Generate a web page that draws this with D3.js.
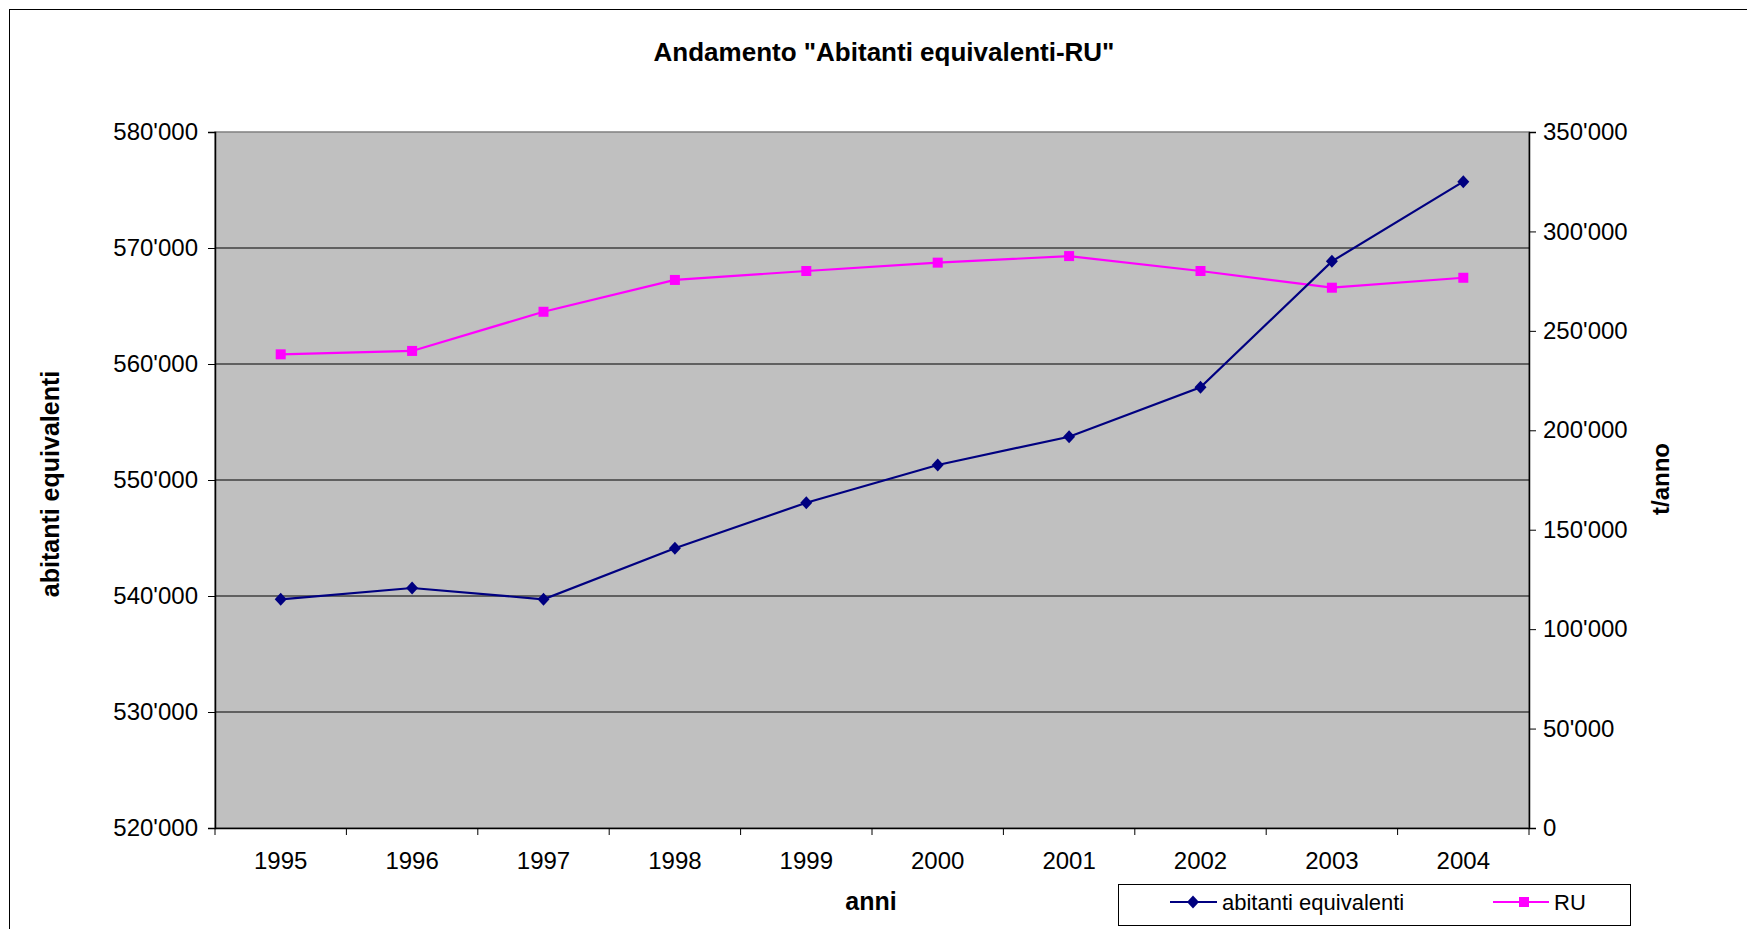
<!DOCTYPE html>
<html lang="it">
<head>
  <meta charset="UTF-8" />
  <title>Andamento "Abitanti equivalenti-RU"</title>
  <script src="https://d3js.org/d3.v7.min.js"></script>
  <style>
    body {
      margin: 0;
      background-color: #fff;
      font-family: "Liberation Sans", Arial, sans-serif;
    }
    svg {
      display: block;
    }
    .tick text {
      font-family: "Liberation Sans", Arial, sans-serif;
    }
  </style>
</head>
<body>

<svg id="chart" width="1747" height="929"></svg>

<script>
  // dati
  const anni = ["1995", "1996", "1997", "1998", "1999", "2000", "2001", "2002", "2003", "2004"];
  const abitantiEquivalenti = [539716, 540690, 539716, 544110, 548040, 551290, 553730, 557990, 568850, 575720];
  const ru = [238200, 239900, 259600, 275600, 280100, 284300, 287600, 280100, 271700, 276700];
  const ticksSinistra = [520000, 530000, 540000, 550000, 560000, 570000, 580000];
  const ticksDestra = [0, 50000, 100000, 150000, 200000, 250000, 300000, 350000];

  const svg = d3.select("#chart");
  const plot = { left: 215, top: 132, right: 1529, bottom: 828 };

  const fmt = v => d3.format(",")(v).replace(/,/g, "'");

  const x = d3.scaleBand().domain(anni).range([plot.left, plot.right]).padding(0);
  const yL = d3.scaleLinear().domain([520000, 580000]).range([plot.bottom, plot.top]);
  const yR = d3.scaleLinear().domain([0, 350000]).range([plot.bottom, plot.top]);
  const cx = d => x(d) + x.bandwidth() / 2;

  // bordo esterno
  svg.append("rect")
    .attr("x", 9.5).attr("y", 9.5)
    .attr("width", 1800).attr("height", 1000)
    .attr("fill", "none").attr("stroke", "#000").attr("stroke-width", 1);

  // titolo
  svg.append("text")
    .attr("x", 884).attr("y", 61)
    .attr("text-anchor", "middle")
    .style("font-size", "26px").style("font-weight", "bold")
    .text('Andamento "Abitanti equivalenti-RU"');

  // area del grafico
  svg.append("rect")
    .attr("x", plot.left).attr("y", plot.top)
    .attr("width", plot.right - plot.left).attr("height", plot.bottom - plot.top)
    .attr("fill", "#c0c0c0").attr("stroke", "#808080").attr("stroke-width", 1.5);

  // griglia
  svg.append("g")
    .selectAll("line")
    .data(ticksSinistra.slice(1, -1))
    .enter().append("line")
    .attr("x1", plot.left).attr("x2", plot.right)
    .attr("y1", d => yL(d)).attr("y2", d => yL(d))
    .attr("stroke", "#000").attr("stroke-width", 1.2);

  // asse sinistro
  const axL = svg.append("g")
    .attr("transform", `translate(${plot.left},0)`)
    .call(d3.axisLeft(yL).tickValues(ticksSinistra).tickFormat(fmt).tickSize(7).tickPadding(10));
  axL.select(".domain").attr("stroke", "#000").attr("stroke-width", 1.5);
  axL.selectAll(".tick text").style("font-size", "24px").attr("fill", "#000");

  // asse destro
  const axR = svg.append("g")
    .attr("transform", `translate(${plot.right},0)`)
    .call(d3.axisRight(yR).tickValues(ticksDestra).tickFormat(fmt).tickSize(7).tickPadding(7));
  axR.select(".domain").attr("stroke", "#000").attr("stroke-width", 1.5);
  axR.selectAll(".tick text").style("font-size", "24px").attr("fill", "#000");

  // asse x
  const axX = svg.append("g")
    .attr("transform", `translate(0,${plot.bottom})`)
    .call(d3.axisBottom(x).tickSize(0).tickPadding(24));
  axX.select(".domain").attr("stroke", "#000").attr("stroke-width", 1.5);
  axX.selectAll(".tick text").style("font-size", "24px").attr("fill", "#000");

  // tacche tra le categorie
  svg.append("g")
    .selectAll("line")
    .data(anni.map(d => x(d)).concat([plot.right]))
    .enter().append("line")
    .attr("x1", d => d).attr("x2", d => d)
    .attr("y1", plot.bottom).attr("y2", plot.bottom + 7)
    .attr("stroke", "#000").attr("stroke-width", 1);

  // titoli assi
  svg.append("text")
    .attr("transform", "translate(50,484) rotate(-90)")
    .attr("text-anchor", "middle").attr("dominant-baseline", "central")
    .style("font-size", "25px").style("font-weight", "bold")
    .text("abitanti equivalenti");

  svg.append("text")
    .attr("transform", "translate(1660,479) rotate(-90)")
    .attr("text-anchor", "middle").attr("dominant-baseline", "central")
    .style("font-size", "24px").style("font-weight", "bold")
    .text("t/anno");

  svg.append("text")
    .attr("x", 871).attr("y", 910)
    .attr("text-anchor", "middle")
    .style("font-size", "25px").style("font-weight", "bold")
    .text("anni");

  // linee
  const lineaAb = d3.line().x((d, i) => cx(anni[i])).y(d => yL(d));
  const lineaRu = d3.line().x((d, i) => cx(anni[i])).y(d => yR(d));

  svg.append("path")
    .datum(ru)
    .attr("d", lineaRu)
    .attr("fill", "none").attr("stroke", "#ff00ff").attr("stroke-width", 2.2);

  svg.append("path")
    .datum(abitantiEquivalenti)
    .attr("d", lineaAb)
    .attr("fill", "none").attr("stroke", "#000080").attr("stroke-width", 2.2);

  const diamante = d3.symbol().type(d3.symbolSquare).size(72);

  svg.append("g")
    .selectAll("rect")
    .data(ru)
    .enter().append("rect")
    .attr("x", (d, i) => cx(anni[i]) - 5).attr("y", d => yR(d) - 5)
    .attr("width", 10).attr("height", 10)
    .attr("fill", "#ff00ff");

  svg.append("g")
    .selectAll("path")
    .data(abitantiEquivalenti)
    .enter().append("path")
    .attr("d", "M0,-6.5L6,0L0,6.5L-6,0Z")
    .attr("transform", (d, i) => `translate(${cx(anni[i])},${yL(d)})`)
    .attr("fill", "#000080");

  // legenda
  const leg = svg.append("g");
  leg.append("rect")
    .attr("x", 1118.5).attr("y", 884.5)
    .attr("width", 512).attr("height", 41)
    .attr("fill", "#fff").attr("stroke", "#000").attr("stroke-width", 1);

  leg.append("line")
    .attr("x1", 1170).attr("x2", 1217).attr("y1", 902).attr("y2", 902)
    .attr("stroke", "#000080").attr("stroke-width", 2.2);
  leg.append("path")
    .attr("d", "M0,-6.5L6,0L0,6.5L-6,0Z")
    .attr("transform", "translate(1193,902)")
    .attr("fill", "#000080");
  leg.append("text")
    .attr("x", 1222).attr("y", 910)
    .style("font-size", "22px")
    .text("abitanti equivalenti");

  leg.append("line")
    .attr("x1", 1493).attr("x2", 1549).attr("y1", 902).attr("y2", 902)
    .attr("stroke", "#ff00ff").attr("stroke-width", 2.2);
  leg.append("rect")
    .attr("x", 1519).attr("y", 897).attr("width", 10).attr("height", 10)
    .attr("fill", "#ff00ff");
  leg.append("text")
    .attr("x", 1554).attr("y", 910)
    .style("font-size", "22px")
    .text("RU");
</script>

</body>
</html>
